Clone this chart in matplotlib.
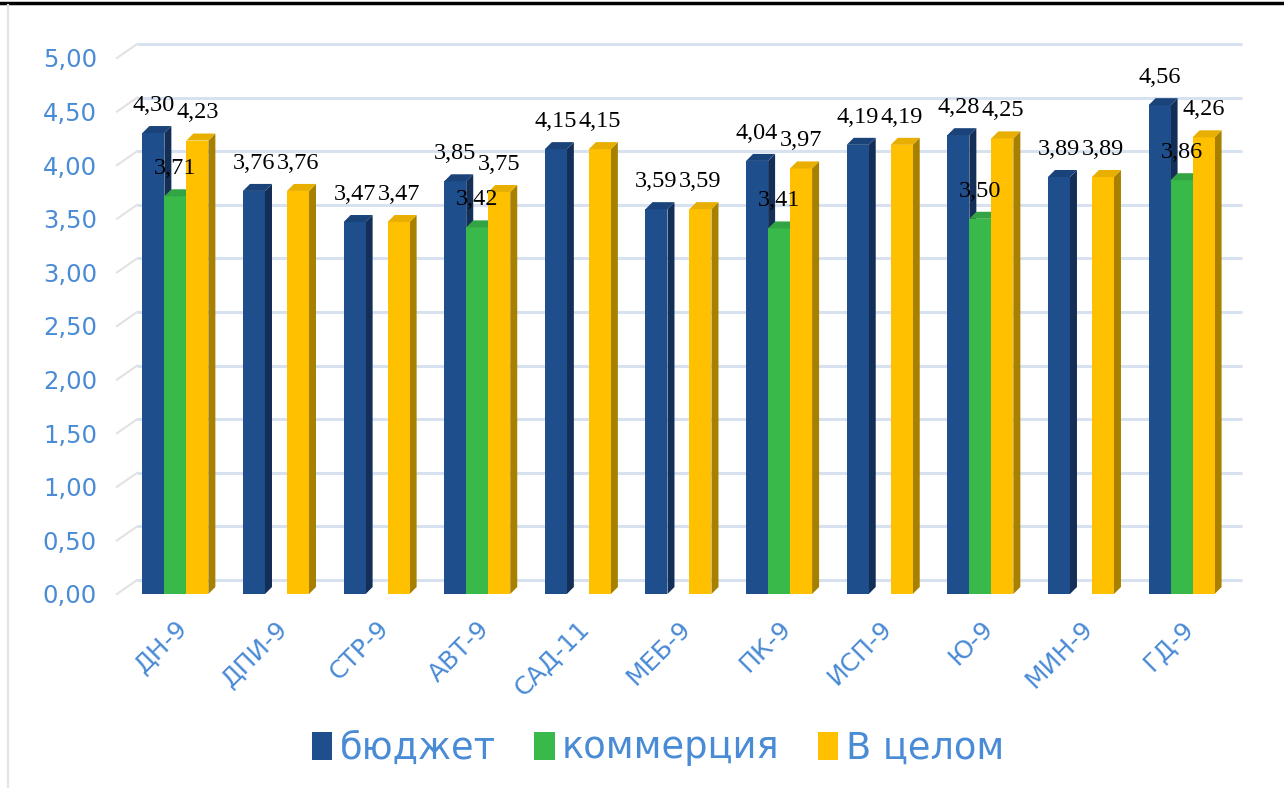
import matplotlib
matplotlib.use("Agg")
import matplotlib.pyplot as plt
from matplotlib.patches import Polygon, Patch
from matplotlib.lines import Line2D
import numpy as np

# data
categories = ["ДН-9", "ДПИ-9", "СТР-9", "АВТ-9", "САД-11", "МЕБ-9",
              "ПК-9", "ИСП-9", "Ю-9", "МИН-9", "ГД-9"]
budget = [4.30, 3.76, 3.47, 3.85, 4.15, 3.59, 4.04, 4.19, 4.28, 3.89, 4.56]
commerce = [3.71, None, None, 3.42, None, None, 3.41, None, 3.50, None, 3.86]
overall = [4.23, 3.76, 3.47, 3.75, 4.15, 3.59, 3.97, 4.19, 4.25, 3.89, 4.26]
series_names = ["бюджет", "коммерция", "В целом"]
y_ticks = np.arange(0, 5.01, 0.5)

# front / side / top colours per series
front_c = ["#1F4E8C", "#3AB94B", "#FFC000"]
side_c = ["#142F57", "#2A8A38", "#A88000"]
top_c = ["#1A4479", "#33A443", "#E8AE00"]
text_blue = "#4A8BD6"

W, H = 1284, 788
fig = plt.figure(figsize=(W / 100, H / 100), dpi=100)
fig.patch.set_facecolor("white")

L, R, B, T = 115, 1248, 594, 58
ax = fig.add_axes([L / W, 1 - B / H, (R - L) / W, (B - T) / H])
ax.set_xlim(-0.6, 10.66)
ax.set_ylim(0, 5)
for s in ax.spines.values():
    s.set_visible(False)

px_x = (R - L) / 11.26   # pixels per x unit
px_y = (B - T) / 5.0     # pixels per y unit
w = 22 / px_x            # bar width
dx = 7 / px_x            # 3d depth
dy = 7 / px_y
gy = 14 / px_y           # back wall shift of the grid

# back wall grid + left wall edges
for v in y_ticks:
    ax.plot([-0.38, 10.6], [v + gy, v + gy], color="#D8E1F0", lw=2.2,
            zorder=1, clip_on=False, solid_capstyle="butt")
    ax.plot([-0.58, -0.38], [v, v + gy], color="#E2E2E2", lw=1.5,
            zorder=1, clip_on=False)

series = [budget, commerce, overall]
z = 3.0
for i in range(len(categories)):
    for j, vals in enumerate(series):
        v = vals[i]
        if v is None:
            continue
        x0 = i + (j - 1) * w - w / 2
        x1 = x0 + w
        z += 0.01
        ax.bar(x0, v, width=w, align="edge", color=front_c[j], zorder=z + 0.005)
        ax.add_patch(Polygon([(x1, 0), (x1 + dx, dy), (x1 + dx, v + dy), (x1, v)],
                             closed=True, facecolor=side_c[j], edgecolor="none",
                             zorder=z))
        ax.add_patch(Polygon([(x0, v), (x1, v), (x1 + dx, v + dy), (x0 + dx, v + dy)],
                             closed=True, facecolor=top_c[j], edgecolor="none",
                             zorder=z + 0.006))

# data labels
for i in range(len(categories)):
    for j, vals in enumerate(series):
        v = vals[i]
        if v is None:
            continue
        xc = i + (j - 1) * w
        ax.annotate(f"{v:.2f}".replace(".", ","), xy=(xc, v), xytext=(0, 16),
                    textcoords="offset points", ha="center", va="baseline",
                    fontsize=17.5, family="Liberation Serif", color="black",
                    zorder=20, annotation_clip=False)

ax.set_yticks(y_ticks)
ax.set_yticklabels([f"{t:.2f}".replace(".", ",") for t in y_ticks])
ax.set_xticks(range(len(categories)))
ax.set_xticklabels(categories, rotation=45, ha="right", va="top",
                   rotation_mode="anchor")
ax.tick_params(axis="y", length=0, pad=13, labelsize=17.5, labelcolor=text_blue)
ax.tick_params(axis="x", length=0, pad=16, labelsize=18, labelcolor=text_blue)

handles = [Patch(facecolor=c, edgecolor="none") for c in front_c]
fig.legend(handles, series_names, loc="center", bbox_to_anchor=(0.5125, 1 - 748 / H),
           ncol=3, frameon=False, fontsize=26.5, labelcolor=text_blue,
           handlelength=0.55, handleheight=0.8, handletextpad=0.2,
           columnspacing=1.05)

# page frame bits
fig.add_artist(Line2D([0, 1], [1 - 3 / H, 1 - 3 / H], color="black", lw=2.5))
fig.add_artist(Line2D([8 / W, 8 / W], [0, 1 - 5 / H], color="#E3E3E3", lw=1.5))

fig.savefig("out.png", dpi=100)
